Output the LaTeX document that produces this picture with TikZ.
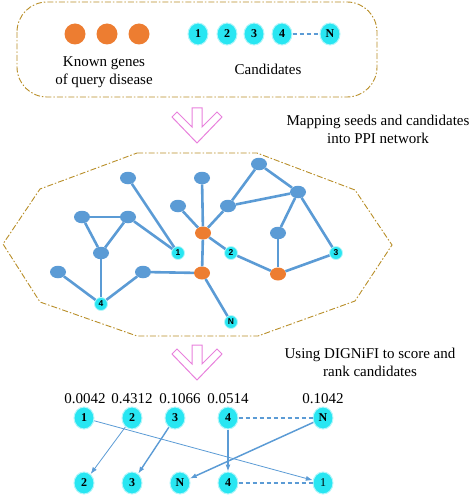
\documentclass[tikz,border=0pt]{standalone}
\usepackage{fontspec}
\setmainfont{Liberation Serif}
\newfontfamily\netsans{Liberation Sans}
\usetikzlibrary{arrows.meta, shapes.geometric}
\definecolor{seedorange}{RGB}{237,125,49}
\definecolor{candcyan}{RGB}{40,230,242}
\definecolor{netblue}{RGB}{91,155,213}
\definecolor{flowpink}{RGB}{232,128,220}
\definecolor{framegold}{RGB}{184,142,40}

\begin{document}
\begin{tikzpicture}[x=1pt, y=-1pt,
  frame/.style={draw=framegold, line width=0.9pt, dash pattern=on 6pt off 2pt on 1.5pt off 2pt},
  seed/.style={circle, fill=seedorange, minimum size=21pt, inner sep=0pt},
  cand/.style={ellipse, fill=candcyan, draw=candcyan!35, line width=1pt, minimum width=20pt,
    minimum height=22pt, inner sep=0pt, font=\fontsize{12}{12}\selectfont\bfseries},
  gene/.style={ellipse, fill=netblue, minimum width=16pt, minimum height=12.5pt, inner sep=0pt},
  hub/.style={ellipse, fill=seedorange, minimum width=16pt, minimum height=13pt, inner sep=0pt},
  netcand/.style={circle, fill=candcyan, draw=candcyan!35, line width=0.8pt, minimum size=13pt,
    inner sep=0pt, font=\netsans\fontsize{8.5}{8.5}\selectfont\bfseries},
  net/.style={draw=netblue, line width=2.6pt},
  link/.style={draw=netblue, line width=1.8pt, dash pattern=on 4.5pt off 2.5pt},
  rank/.style={draw=netblue, -{Latex[length=7pt, width=5pt]}},
  txt/.style={font=\fontsize{15}{18}\selectfont, align=center}]
  \useasboundingbox (0,0) rectangle (473,497);

  % seeds and candidates
  \draw[frame, rounded corners=30pt] (17,2) rectangle (377,97);
  \node[seed] (s1) at (75,34) {};
  \node[seed] (s2) at (107,34) {};
  \node[seed] (s3) at (139,34) {};
  \node[cand] (t1) at (198,34) {1};
  \node[cand] (t2) at (227,34) {2};
  \node[cand] (t3) at (254,34) {3};
  \node[cand] (t4) at (282,34) {4};
  \node[cand] (tN) at (330,34) {N};
  \draw[link] (t4) -- (tN);
  \node[txt] (known) at (104,72) {Known genes\\of query disease};
  \node[txt] (cands) at (268,69) {Candidates};

  % hollow arrows
  \foreach \yy in {108,345}
    \draw[flowpink, line width=1pt, line join=miter] (197,\yy) ++(-5,0) -- ++(10,0) -- ++(0,19)
      -- ++(15,-15) -- ++(5,5) -- ++(-25,26) -- ++(-25,-26) -- ++(5,-5) -- ++(15,15) -- cycle;
  \node[txt] (mapping) at (378,129) {Mapping seeds and candidates\\into PPI network};
  \node[txt] (using) at (370,362) {Using DIGNiFI to score and\\rank candidates};

  % ppi network
  \draw[frame] (137,153) -- (257,153) -- (355,190) -- (392,245) -- (355,301) -- (258,336)
    -- (137,336) -- (40,302) -- (3,244) -- (40,189) -- cycle;
  \node[gene] (b1) at (128,178) {};
  \node[gene] (b2) at (202,178) {};
  \node[gene] (b3) at (259,164) {};
  \node[gene] (b4) at (298,192) {};
  \node[gene] (b5) at (178,206) {};
  \node[gene] (b6) at (228,206) {};
  \node[gene] (b7) at (82,217) {};
  \node[gene] (b8) at (128,217) {};
  \node[gene] (b9) at (278,233) {};
  \node[gene] (b10) at (101,253) {};
  \node[gene] (b11) at (58,272) {};
  \node[gene] (b12) at (143,272) {};
  \node[hub] (o1) at (203,233) {};
  \node[hub] (o2) at (202,273) {};
  \node[hub] (o3) at (278,274) {};
  \node[netcand] (c1) at (178,253) {1};
  \node[netcand] (c2) at (231,253) {2};
  \node[netcand] (c3) at (336,253) {3};
  \node[netcand] (c4) at (101,304) {4};
  \node[netcand] (cN) at (231,322) {N};
  \foreach \a/\b in {b1/c1, b8/c1, b7/b8, b7/b10, b8/b10, b10/c4, b11/c4, b12/c4, b12/o2,
      b2/o1, b5/o1, b6/o1, o1/c2, o1/o2, o2/cN, b6/b3, b6/b4, b3/b4, b4/b9, b4/c3,
      b9/o3, c2/o3, o3/c3}
    \draw[net] (\a) -- (\b);

  % scores and ranking
  \node[txt] (p1) at (85,399) {0.0042};
  \node[txt] (p2) at (132,399) {0.4312};
  \node[txt] (p3) at (180,399) {0.1066};
  \node[txt] (p4) at (228,399) {0.0514};
  \node[txt] (pN) at (323,399) {0.1042};
  \node[cand] (r1) at (84,418) {1};
  \node[cand] (r2) at (132,418) {2};
  \node[cand] (r3) at (175,418) {3};
  \node[cand] (r4) at (228,418) {4};
  \node[cand] (rN) at (323,418) {N};
  \node[cand] (q2) at (84,483) {2};
  \node[cand] (q3) at (132,483) {3};
  \node[cand] (qN) at (180,483) {N};
  \node[cand] (q4) at (228,483) {4};
  \node[cand, font=\fontsize{12}{12}\selectfont] (q1) at (323,483) {1};
  \draw[link] (r4) -- (rN);
  \draw[link] (q4) -- (q1);
  \draw[rank, line width=0.8pt] (r1) -- (q1);
  \draw[rank, line width=0.8pt] (r2) -- (q2);
  \draw[rank, line width=1.4pt] (r3) -- (q3);
  \draw[rank, line width=1.1pt] (r4) -- (q4);
  \draw[rank, line width=1.5pt] (rN) -- (qN);
\end{tikzpicture}
\end{document}
